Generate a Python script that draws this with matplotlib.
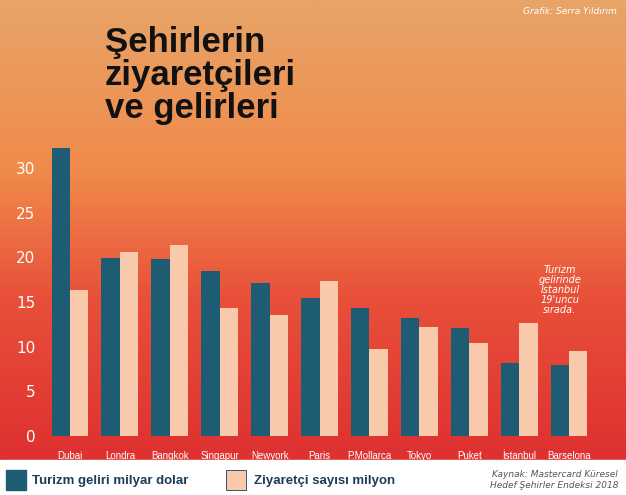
import matplotlib
matplotlib.use("Agg")
import matplotlib.pyplot as plt
import numpy as np
from matplotlib.patches import Rectangle
from matplotlib.colors import LinearSegmentedColormap

cities = ["Dubai","Londra","Bangkok","Singapur","Newyork","Paris","P.Mollarca","Tokyo","Puket","İstanbul","Barselona"]
revenue = [32.2,19.9,19.8,18.5,17.1,15.4,14.3,13.2,12.1,8.2,7.9]
visitors = [16.3,20.6,21.4,14.3,13.5,17.4,9.7,12.2,10.4,12.6,9.5]
yticks = [0,5,10,15,20,25,30]

W,H = 626,495
fig = plt.figure(figsize=(W/100,H/100), dpi=100)
bg = fig.add_axes([0,0,1,1]); bg.set_axis_off()
grad = np.linspace(0,1,256)[:,None]
cm = LinearSegmentedColormap.from_list("g",[(0,"#e8a468"),(0.35,"#f08a4a"),(0.6,"#e8503a"),(1,"#dc2a2e")])
bg.imshow(grad, aspect="auto", cmap=cm, extent=[0,1,0,1], transform=bg.transAxes)
bg.add_patch(Rectangle((0,0),1,35/H,color="white",transform=bg.transAxes))
bg.set_xlim(0,1); bg.set_ylim(0,1)

ax = fig.add_axes([40/W, 59/H, 560/W, 1-59/H])
ax.patch.set_alpha(0)
x = np.arange(len(cities))
bw = 0.37
ax.bar(x-bw/2, revenue, bw, color="#1e5c74", zorder=3)
ax.bar(x+bw/2, visitors, bw, color="#f8c9aa", zorder=3)
ax.set_xlim(-(70-40)/49.9, (600-70)/49.9)
ax.set_ylim(0, (495-59)/8.93)
ax.set_yticks(yticks)
for s in ax.spines.values(): s.set_visible(False)
ax.tick_params(length=0, colors="white", labelsize=11)
ax.set_yticklabels([str(v) for v in yticks], color="white")
ax.set_xticks(x)
ax.set_xticklabels(cities, color="white", fontsize=7, fontfamily="Liberation Sans Narrow" if False else "DejaVu Sans Condensed" if False else "Liberation Sans")
ax.tick_params(axis="x", pad=11)

fig.text(105/W, 1-26/H, "Şehirlerin\nziyaretçileri\nve gelirleri", fontsize=25, fontweight="bold",
         va="top", ha="left", color="#111111", linespacing=1.0, fontfamily="Liberation Sans", stretch="condensed")
fig.text(617/W, 1-12/H, "Grafik: Serra Yıldırım", fontsize=6.5, style="italic", color="white", ha="right", va="center")
fig.text(560/W, 1-290/H, "Turizm\ngelirinde\nİstanbul\n19'uncu\nsırada.", fontsize=7, style="italic",
         color="white", ha="center", va="center", linespacing=1.0)

bg.add_patch(Rectangle((6/W,(495-490)/H),20/W,20/H,color="#1e5c74",transform=bg.transAxes))
fig.text(32/W, 1-481/H, "Turizm geliri milyar dolar", fontsize=9.5, fontweight="bold", color="#1e3c5a", va="center", fontfamily="Liberation Sans")
bg.add_patch(Rectangle((226/W,(495-490)/H),20/W,20/H,facecolor="#f8c9aa",edgecolor="#1e3c5a",lw=0.6,transform=bg.transAxes))
fig.text(254/W, 1-481/H, "Ziyaretçi sayısı milyon", fontsize=9.5, fontweight="bold", color="#1e3c5a", va="center", fontfamily="Liberation Sans")
fig.text(618/W, 1-480/H, "Kaynak: Mastercard Küresel\nHedef Şehirler Endeksi 2018", fontsize=6.5, style="italic",
         color="#555555", ha="right", va="center")
fig.savefig("out.png", dpi=100)
